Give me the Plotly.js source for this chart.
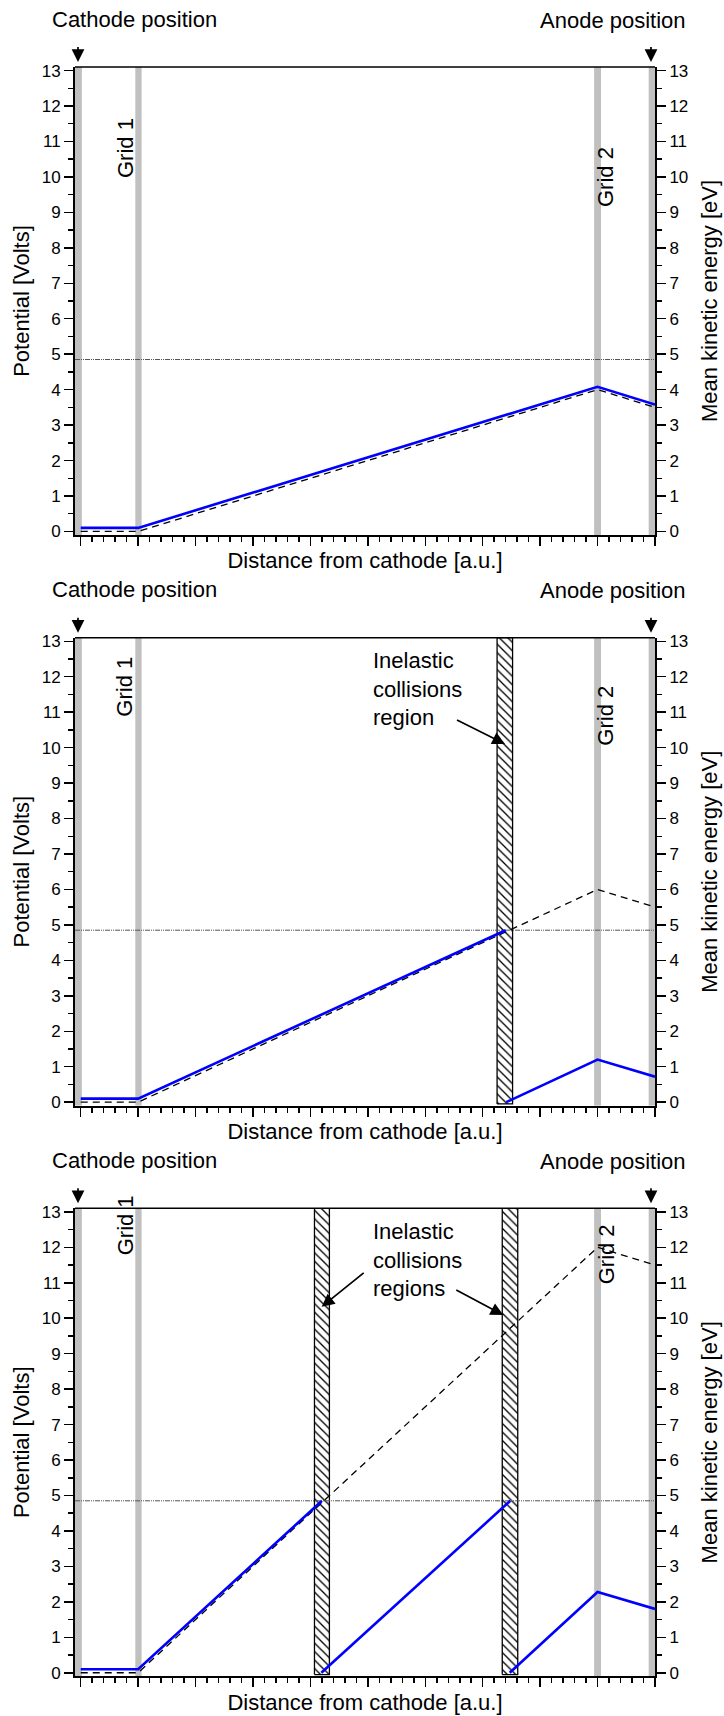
<!DOCTYPE html>
<html><head><meta charset="utf-8">
<script src="https://cdn.plot.ly/plotly-3.0.1.min.js"></script>
<style>html,body{margin:0;padding:0;background:#fff}</style>
</head><body>
<div id="chart" style="width:724px;height:1716px"></div>
<script>
// ---------------- data ----------------
const electrodeNames = ['Cathode', 'Grid 1', 'Grid 2', 'Anode'];
const electrodeLeft  = [-0.1, 0.95, 8.94, 9.89];
const electrodeRight = [0.02, 1.06, 9.06, 10.0];

const excitationThreshold = 4.85;

const potentialX  = [0, 1, 9, 10];
const potentialY1 = [0, 0, 4.0, 3.5];
const potentialY2 = [0, 0, 6.0, 5.5];
const potentialY3 = [0, 0, 12.0, 11.5];

const energyX1 = [0, 1, 9, 10];
const energyY1 = [0.1, 0.1, 4.08, 3.58];
const energyX2 = [0, 1, 7.4, null, 7.41, 9, 10];
const energyY2 = [0.1, 0.1, 4.85, null, 0, 1.2, 0.72];
const energyX3 = [0, 1, 4.2, null, 4.19, 7.48, null, 7.47, 9, 10];
const energyY3 = [0.1, 0.1, 4.85, null, 0, 4.85, null, 0, 2.28, 1.8];

const inelasticLeft1 = [];
const inelasticRight1 = [];
const inelasticLeft2 = [7.25];
const inelasticRight2 = [7.52];
const inelasticLeft3 = [4.07, 7.34];
const inelasticRight3 = [4.33, 7.61];

const xTitle = 'Distance from cathode [a.u.]';
const yLeftTitle = 'Potential [Volts]';
const yRightTitle = 'Mean kinetic energy [eV]';

// ---------------- geometry ----------------
const W = 724, H = 1716;
const X_RANGE = [-0.1, 10];
const Y_RANGE = [-0.1, 13.1];
const panelTopPx = [67, 637.7, 1208.3];
const panelHPx = 468;
const xDom = [75 / W, 655 / W];
const pxX = px => (px - 75) / 580 * (X_RANGE[1] - X_RANGE[0]) + X_RANGE[0];
const py = px => 1 - px / H;
const yDom = i => [py(panelTopPx[i] + panelHPx), py(panelTopPx[i])];

const FONT = 'Liberation Sans, Arial, Helvetica, sans-serif';
const panels = [
  {pot: potentialY1, ex: energyX1, ey: energyY1, il: inelasticLeft1, ir: inelasticRight1},
  {pot: potentialY2, ex: energyX2, ey: energyY2, il: inelasticLeft2, ir: inelasticRight2},
  {pot: potentialY3, ex: energyX3, ey: energyY3, il: inelasticLeft3, ir: inelasticRight3}
];

const traces = [];
const layout = {
  width: W, height: H,
  margin: {l: 0, r: 0, t: 0, b: 0},
  paper_bgcolor: 'white', plot_bgcolor: 'white',
  showlegend: false,
  font: {family: FONT, color: 'black', size: 17},
  shapes: [], annotations: []
};
const ARROW = {showarrow: true, arrowhead: 2, arrowsize: 1.5, arrowwidth: 1.7, arrowcolor: 'black', standoff: 0, startstandoff: 0};

panels.forEach((p, i) => {
  const n = i + 1;
  const xa = n === 1 ? 'x' : 'x' + n;
  const ya = n === 1 ? 'y' : 'y' + n;
  const yr = 'y' + (n + 3);
  const xKey = n === 1 ? 'xaxis' : 'xaxis' + n;
  const yKey = n === 1 ? 'yaxis' : 'yaxis' + n;
  const yrKey = 'yaxis' + (n + 3);

  // electrode bands
  electrodeNames.forEach((nm, k) => {
    const l = electrodeLeft[k], r = electrodeRight[k];
    traces.push({type: 'scatter', mode: 'lines', xaxis: xa, yaxis: ya, name: nm,
      x: [l, r, r, l, l], y: [Y_RANGE[0], Y_RANGE[0], Y_RANGE[1], Y_RANGE[1], Y_RANGE[0]],
      fill: 'toself', fillcolor: '#c0c0c0', line: {width: 0, color: '#c0c0c0'}, hoverinfo: 'skip'});
  });
  // inelastic collision bands
  p.il.forEach((l, k) => {
    const r = p.ir[k];
    const yb = -0.05;
    traces.push({type: 'scatter', mode: 'lines', xaxis: xa, yaxis: ya, name: 'Inelastic collisions',
      x: [l, r, r, l, l], y: [yb, yb, Y_RANGE[1], Y_RANGE[1], yb],
      fill: 'toself', fillcolor: 'white',
      fillpattern: {shape: '\\', size: 6, solidity: 0.22, fgcolor: 'black', bgcolor: 'white'},
      line: {width: 1.3, color: 'black'}, hoverinfo: 'skip'});
  });
  // threshold
  traces.push({type: 'scatter', mode: 'lines', xaxis: xa, yaxis: ya, name: 'threshold',
    x: [X_RANGE[0], X_RANGE[1]], y: [excitationThreshold, excitationThreshold],
    line: {color: '#555555', width: 1, dash: '5px,1px,1px,1px,1px,1px'}});
  // potential
  traces.push({type: 'scatter', mode: 'lines', xaxis: xa, yaxis: ya, name: 'Potential',
    x: potentialX, y: p.pot, line: {color: 'black', width: 1.3, dash: '7px,5px'}});
  // energy
  traces.push({type: 'scatter', mode: 'lines', xaxis: xa, yaxis: yr, name: 'Mean kinetic energy',
    x: p.ex, y: p.ey, connectgaps: false, line: {color: '#0000ff', width: 2.6}});

  const dom = yDom(i);
  const tickCommon = {
    showgrid: false, zeroline: false, showline: true, linecolor: 'black', linewidth: 2,
    ticks: 'outside', ticklen: 9, tickwidth: 1.5, tickcolor: 'black', fixedrange: true
  };
  layout[xKey] = Object.assign({}, tickCommon, {
    domain: xDom, range: X_RANGE, anchor: ya, tickmode: 'linear', tick0: 0, dtick: 1,
    showticklabels: false,
    minor: {ticks: 'outside', ticklen: 5, tickwidth: 1.5, tickcolor: 'black', tick0: 0, dtick: 0.2, showgrid: false},
    title: {text: xTitle, font: {size: 22}, standoff: 8}
  });
  const yCommon = Object.assign({}, tickCommon, {
    domain: dom, range: Y_RANGE, anchor: xa, tickmode: 'linear', tick0: 0, dtick: 1,
    tickfont: {size: 17},
    minor: {ticks: 'outside', ticklen: 5, tickwidth: 1.5, tickcolor: 'black', tick0: 0, dtick: 0.5, showgrid: false}
  });
  layout[yKey] = Object.assign({}, yCommon, {side: 'left', title: {text: yLeftTitle, font: {size: 22}, standoff: 6}});
  layout[yrKey] = Object.assign({}, yCommon, {side: 'right', overlaying: ya,
    title: {text: yRightTitle, font: {size: 22}, standoff: 14}});

  // top border
  layout.shapes.push({type: 'line', xref: 'paper', yref: 'paper', x0: xDom[0], x1: xDom[1],
    y0: dom[1], y1: dom[1], line: {color: 'black', width: 1.5}});

  const top = panelTopPx[i];
  // Cathode / Anode labels and arrows
  layout.annotations.push({xref: xa, yref: 'paper', x: pxX(134.7), y: py(top - 48),
    text: 'Cathode position', showarrow: false, font: {size: 22}, xanchor: 'center', yanchor: 'middle'});
  layout.annotations.push({xref: xa, yref: 'paper', x: pxX(612.5), y: py(top - 47),
    text: 'Anode position', showarrow: false, font: {size: 22}, xanchor: 'center', yanchor: 'middle'});
  [78, 651].forEach(ax => {
    layout.annotations.push(Object.assign({xref: xa, yref: 'paper', x: pxX(ax), y: py(top - 5),
      text: ' ', ax: 0, ay: -26}, ARROW));
  });
  // Grid labels
  layout.annotations.push({xref: xa, yref: 'paper', x: pxX(125), y: py(top + 49),
    text: 'Grid 1', textangle: -90, showarrow: false, font: {size: 22}});
  layout.annotations.push({xref: xa, yref: 'paper', x: pxX(606), y: py(top + 78),
    text: 'Grid 2', textangle: -90, showarrow: false, font: {size: 22}});
});

// inelastic annotations
layout.annotations.push({xref: 'x2', yref: 'paper', x: pxX(371), y: py(panelTopPx[1] + 51.6),
  text: 'Inelastic<br>collisions<br>region', showarrow: false, align: 'left', xanchor: 'left', yanchor: 'middle', font: {size: 22}});
layout.annotations.push(Object.assign({xref: 'x2', yref: 'paper', x: pxX(505), y: py(744),
  text: ' ', ax: -52, ay: -26}, ARROW));
layout.annotations.push({xref: 'x3', yref: 'paper', x: pxX(371), y: py(panelTopPx[2] + 51.7),
  text: 'Inelastic<br>collisions<br>regions', showarrow: false, align: 'left', xanchor: 'left', yanchor: 'middle', font: {size: 22}});
layout.annotations.push(Object.assign({xref: 'x3', yref: 'paper', x: pxX(321.7), y: py(1306.7),
  text: ' ', ax: 46, ay: -37}, ARROW));
layout.annotations.push(Object.assign({xref: 'x3', yref: 'paper', x: pxX(503.3), y: py(1315),
  text: ' ', ax: -51, ay: -27}, ARROW));

Plotly.newPlot('chart', traces, layout, {staticPlot: true, displayModeBar: false});
</script>
</body></html>
